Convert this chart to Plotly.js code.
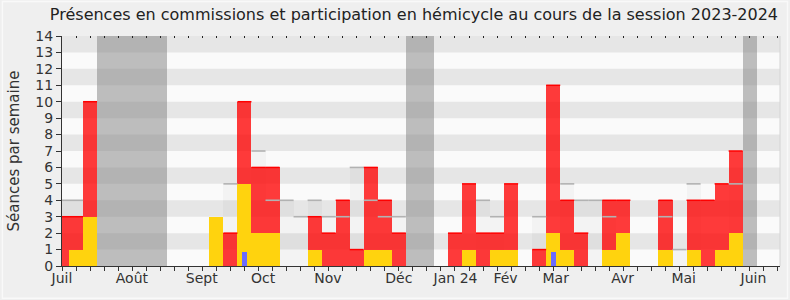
<!DOCTYPE html>
<html><head><meta charset="utf-8">
<script src="https://cdn.plot.ly/plotly-3.0.1.min.js"></script>
<style>html,body{margin:0;padding:0;background:#efefef;}#chart{width:790px;height:300px;}</style>
</head><body><div id="chart"></div>
<script>
// Week index 0 = first week of July 2023 ... 51 = last week of June 2024
const weeks = Array.from({length: 52}, (_, i) => i);
// Participation en hémicycle (total height of red bars)
const hemicycle = [3,3,10,null,null,null,null,null,null,null,null,null,2,10,6,6,null,null,3,2,4,1,6,4,2,null,null,null,2,5,2,2,5,null,1,11,4,2,null,4,4,null,null,4,null,4,4,5,7,null,null,null];
// Présences en commission
const commission = [null,1,3,null,null,null,null,null,null,null,null,3,null,5,2,2,null,null,1,null,null,null,1,1,null,null,null,null,null,1,null,1,1,null,null,2,1,null,null,1,2,null,null,1,null,1,null,1,2,null,null,null];
// Questions orales
const questions = [null,null,null,null,null,null,null,null,null,null,null,null,null,0.88,null,null,null,null,null,null,null,null,null,null,null,null,null,null,null,null,null,null,null,null,null,0.88,null,null,null,null,null,null,null,null,null,null,null,null,null,null,null,null];
// Médiane des députés
const mediane = [4,4,null,null,null,null,null,null,null,null,null,null,5,null,7,4,4,3,4,3,3,6,4,3,3,null,null,null,null,null,4,3,null,null,3,null,5,4,4,3,null,null,null,3,1,5,null,null,5,null,null,null];
// Vacances parlementaires
const vacances = [3,4,5,6,7,25,26,49];
const yMax = 14;
const monthPos = [0, 4.98, 9.96, 14.33, 18.95, 24.0, 28.04, 31.6, 35.18, 39.95, 44.3, 49.27];
const monthLabels = ["Juil","Août","Sept","Oct","Nov","Déc","Jan 24","Fév","Mar","Avr","Mai","Juin"];
const yTicks = Array.from({length: 15}, (_, i) => i);

function segs(arr) {
  const xs = [], ys = [];
  arr.forEach((v, i) => { if (v != null) { xs.push(i - 0.5, i + 0.5, null); ys.push(v, v, null); } });
  return {xs, ys};
}
const med = segs(mediane);
const redTop = segs(hemicycle);

const traces = [
  {type:'bar', x: vacances, y: vacances.map(() => yMax), width: 1, marker:{color:'rgba(128,128,128,0.5)'}, hoverinfo:'skip'},
  {type:'bar', x: weeks, y: mediane, width: 1, marker:{color:'rgba(0,0,0,0.028)'}, hoverinfo:'skip'},
  {type:'scatter', mode:'lines', x: med.xs, y: med.ys, line:{color:'#b2b2b2', width:1.6}, hoverinfo:'skip'},
  {type:'bar', x: weeks, y: hemicycle, width: 1, marker:{color:'rgba(255,0,0,0.77)'}},
  {type:'scatter', mode:'lines', x: redTop.xs, y: redTop.ys, line:{color:'rgb(255,0,0)', width:1.5}, hoverinfo:'skip'},
  {type:'bar', x: weeks, y: commission, width: 1, marker:{color:'#ffd30e'}},
  {type:'bar', x: weeks, y: questions, width: 0.33, marker:{color:'#6b6bff'}},
  {type:'scatter', mode:'lines', x:[0], y:[0], xaxis:'x2', hoverinfo:'skip', line:{width:0}},
  {type:'scatter', mode:'lines', x:[0], y:[0], xaxis:'x3', hoverinfo:'skip', line:{width:0}}
];

const shapes = [];
for (let k = 1; k < yMax; k += 2) {
  shapes.push({type:'rect', xref:'paper', yref:'y', x0:0, x1:1, y0:k, y1:k+1, fillcolor:'#e6e6e6', line:{width:0}, layer:'below'});
}
shapes.push({type:'line', xref:'paper', yref:'paper', x0:1, x1:1, y0:0, y1:1, line:{color:'#d4d4d4', width:1}});
shapes.push({type:'rect', xref:'paper', yref:'paper', x0:-0.083, x1:1.0105, y0:-0.14, y1:1.15, line:{color:'#f9f9f9', width:1.5}, layer:'below'});

const xr = [0, 51.16];
const layout = {
  width: 790, height: 300,
  margin: {l: 61.7, r: 9.5, t: 36, b: 34},
  paper_bgcolor: '#efefef', plot_bgcolor: '#fafafa',
  showlegend: false, barmode: 'overlay', bargap: 0,
  font: {family: 'DejaVu Sans', color: '#333'},
  title: {text: 'Présences en commissions et participation en hémicycle au cours de la session 2023-2024',
          font: {family: 'DejaVu Sans', size: 16, color: '#222'}, x: 0.524, xanchor: 'center', y: 0.952, yanchor: 'middle', yref:'container'},
  xaxis: {range: xr, tickmode: 'array', tickvals: weeks, showticklabels: false, ticks: 'outside', ticklen: 4, tickcolor: '#333',
          showline: true, linecolor: '#333', linewidth: 1, showgrid: false, zeroline: false, fixedrange: true},
  xaxis2: {overlaying: 'x', anchor: 'y', side: 'bottom', range: xr, tickmode: 'array', tickvals: monthPos, ticktext: monthLabels,
           ticks: '', ticklabelstandoff: 2, tickfont: {size: 14, color: '#333'}, showline: false, showgrid: false, zeroline: false},
  xaxis3: {overlaying: 'x', anchor: 'y', side: 'top', range: xr, tickmode: 'array', tickvals: weeks, showticklabels: false,
           ticks: 'inside', ticklen: 2, tickcolor: '#222', showline: false, showgrid: false, zeroline: false},
  yaxis: {range: [0, yMax], tickmode: 'array', tickvals: yTicks, ticks: 'outside', ticklen: 5, tickcolor: '#333',
          tickfont: {size: 14, color: '#333'}, showline: true, linecolor: '#333', linewidth: 1, showgrid: false, zeroline: false,
          title: {text: 'Séances par semaine', font: {size: 15, color: '#333'}, standoff: 12}},
  shapes: shapes
};
Plotly.newPlot('chart', traces, layout, {displayModeBar: false, staticPlot: true});
</script></body></html>
